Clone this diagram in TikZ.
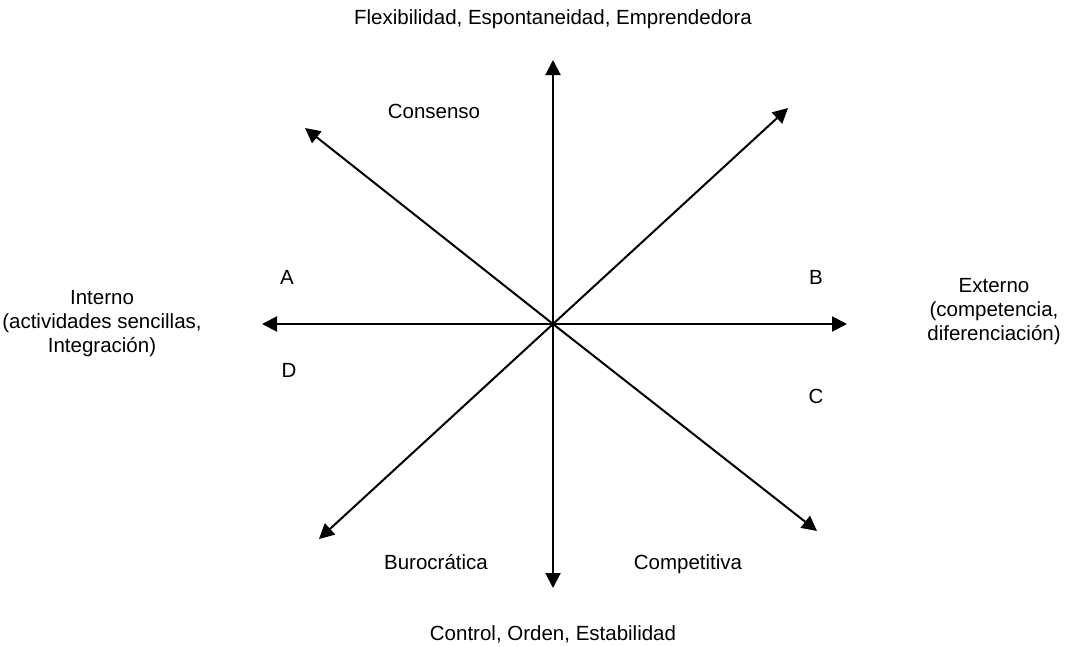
\documentclass[tikz,border=0pt]{standalone}
\usepackage{fontspec}
\setmainfont{Liberation Sans}
\usetikzlibrary{arrows.meta}
\begin{document}
\begin{tikzpicture}[x=1pt,y=-1pt,
  ax/.style={line width=2pt,-{Triangle[length=15pt,width=15pt]}},
  lbl/.style={font=\fontsize{20.5}{24}\selectfont,inner sep=0pt,text height=15pt,text depth=0pt},
  blk/.style={font=\fontsize{20.5}{24}\selectfont,inner sep=0pt,align=center}]
\useasboundingbox (0,0) rectangle (1065,646);
\coordinate (o) at (553,324);
\coordinate (n) at (553,60);
\coordinate (s) at (553,588);
\coordinate (w) at (262,324);
\coordinate (e) at (847,324);
\coordinate (nw) at (305,128);
\coordinate (ne) at (788,108);
\coordinate (sw) at (319,539);
\coordinate (se) at (817,531);
\foreach \t in {n,s,w,e,nw,ne,sw,se} \draw[ax] (o) -- (\t);
\node[lbl] (top) at (553,17) {Flexibilidad, Espontaneidad, Emprendedora};
\node[lbl] (bot) at (553,633) {Control, Orden, Estabilidad};
\node[lbl] (cons) at (434,111) {Consenso};
\node[lbl] (buro) at (436,562) {Burocrática};
\node[lbl] (comp) at (688,562) {Competitiva};
\node[lbl] (A) at (287,277) {A};
\node[lbl] (B) at (816,277) {B};
\node[lbl] (D) at (289,370) {D};
\node[lbl] (C) at (816,396) {C};
\node[blk] (int) at (102,324) {Interno\\(actividades sencillas,\\Integración)};
\node[blk] (ext) at (994,312) {Externo\\(competencia,\\diferenciación)};
\end{tikzpicture}
\end{document}
